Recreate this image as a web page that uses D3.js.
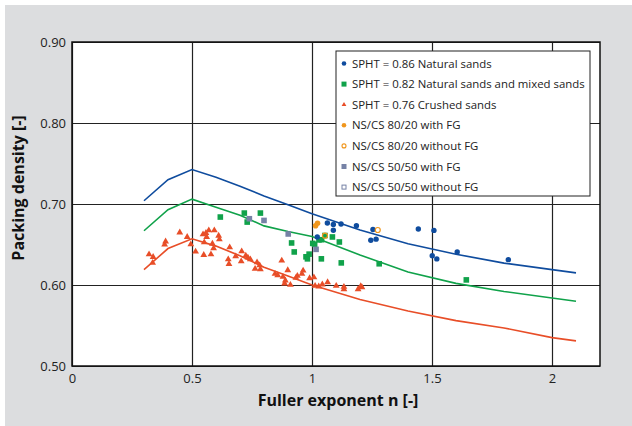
<!DOCTYPE html>
<html>
<head>
<meta charset="utf-8">
<script src="https://cdn.jsdelivr.net/npm/d3@7"></script>
<style>
  body { margin: 0; background: #fff; }
  text { font-family: "Open Sans", "DejaVu Sans", sans-serif; }
</style>
</head>
<body>
<div class="chart"></div>
<script>
// tick labels
const xTicks = [0, 0.5, 1, 1.5, 2];
const yTicks = [0.5, 0.6, 0.7, 0.8, 0.9];

// model curves (Fuller exponent vs packing density)
const curveN = [0.3, 0.4, 0.5, 0.6, 0.7, 0.8, 0.9, 1.0, 1.2, 1.4, 1.6, 1.8, 2.0, 2.1];
const curve086 = [0.704, 0.730, 0.7425, 0.733, 0.722, 0.710, 0.699, 0.688, 0.668, 0.651, 0.638, 0.627, 0.619, 0.615];
const curve082 = [0.667, 0.693, 0.706, 0.696, 0.686, 0.673, 0.666, 0.660, 0.637, 0.616, 0.602, 0.592, 0.584, 0.580];
const curve076 = [0.619, 0.645, 0.657, 0.648, 0.636, 0.622, 0.611, 0.600, 0.582, 0.568, 0.556, 0.547, 0.535, 0.531];

// measured points [n, packing density]
const naturalSands = [
    [1.064, 0.6765], [1.089, 0.6748], [1.121, 0.6753], [1.089, 0.6676], [1.185, 0.6732],
    [1.254, 0.6685], [1.245, 0.6553], [1.267, 0.6566], [1.443, 0.6692], [1.508, 0.6674],
    [1.501, 0.6362], [1.520, 0.6322], [1.605, 0.6408], [1.818, 0.6313], [1.022, 0.6593]
];
const mixedSands = [
    [0.618, 0.6839], [0.718, 0.6888], [0.785, 0.6888], [0.730, 0.6777], [0.915, 0.6519],
    [0.926, 0.6408], [1.003, 0.6514], [1.011, 0.6502], [1.029, 0.6557], [1.040, 0.6559],
    [1.085, 0.6593], [1.114, 0.6531], [0.988, 0.6381], [0.975, 0.6348], [0.981, 0.6323],
    [1.039, 0.6323], [1.122, 0.6273], [1.280, 0.6262], [1.054, 0.6611], [1.643, 0.6063]
];
const crushedSands = [
    [0.449, 0.6649], [0.480, 0.6593], [0.390, 0.6538], [0.386, 0.6498], [0.321, 0.6378],
    [0.338, 0.6346], [0.336, 0.6273], [0.495, 0.6502], [0.515, 0.6412], [0.549, 0.6371],
    [0.579, 0.6378], [0.546, 0.6625], [0.558, 0.6642], [0.570, 0.6674], [0.593, 0.6674],
    [0.561, 0.6593], [0.551, 0.6526], [0.585, 0.6510], [0.590, 0.6452], [0.611, 0.6609],
    [0.614, 0.6563], [0.657, 0.6465], [0.651, 0.6317], [0.654, 0.6260], [0.682, 0.6354],
    [0.707, 0.6415], [0.724, 0.6362], [0.733, 0.6338], [0.705, 0.6292], [0.743, 0.6317],
    [0.771, 0.6280], [0.763, 0.6199], [0.785, 0.6194], [0.782, 0.6243], [0.874, 0.6301],
    [0.846, 0.6137], [0.857, 0.6120], [0.879, 0.6100], [0.899, 0.6182], [0.889, 0.6055],
    [0.886, 0.6018], [0.910, 0.6002], [0.933, 0.6088], [0.939, 0.6113], [0.958, 0.6137],
    [0.963, 0.6178], [0.990, 0.6083], [1.008, 0.6095], [1.013, 0.5990], [1.028, 0.5981],
    [1.043, 0.6006], [1.065, 0.6034], [1.101, 0.5990], [1.133, 0.5977], [1.133, 0.5948],
    [1.192, 0.5948], [1.203, 0.5985], [1.208, 0.5972]
];
const ns80WithFG = [[1.015, 0.6732], [1.023, 0.6762]];
const ns80WithoutFG = [[1.274, 0.6679], [1.054, 0.6609]];
const ns50WithFG = [[0.739, 0.6818], [0.800, 0.6797], [0.901, 0.6630], [1.017, 0.6440]];
const ns50WithoutFG = [];

const legendLabels = [
    'SPHT = 0.86 Natural sands',
    'SPHT = 0.82 Natural sands and mixed sands',
    'SPHT = 0.76 Crushed sands',
    'NS/CS 80/20 with FG',
    'NS/CS 80/20 without FG',
    'NS/CS 50/50 with FG',
    'NS/CS 50/50 without FG'
];

const blue = '#0f4c9e';
const green = '#10a24a';
const red = '#e84e28';
const orange = '#f0961c';
const slate = '#7682a6';

const W = 632, H = 426;
const margin = { left: 72, top: 42, right: 32, bottom: 60 };
const pw = W - margin.left - margin.right;
const ph = H - margin.top - margin.bottom;

const svg = d3.select('.chart')
    .append('svg')
    .attr('width', W)
    .attr('height', H);

svg.append('rect')
    .attr('x', 5)
    .attr('y', 5)
    .attr('width', W - 5)
    .attr('height', H - 5)
    .style('fill', '#dcdddf');

const x = d3.scaleLinear().domain([0, 2.2]).range([0, pw]);
const y = d3.scaleLinear().domain([0.5, 0.9]).range([ph, 0]);

const g = svg.append('g')
    .attr('transform', `translate(${margin.left},${margin.top})`);

g.append('rect')
    .attr('width', pw)
    .attr('height', ph)
    .style('fill', '#fff');

// grid + tick labels through axes
const xAxis = g.append('g')
    .attr('transform', `translate(0,${ph})`)
    .call(d3.axisBottom(x).tickValues(xTicks).tickSize(-ph).tickFormat(d3.format('')));
xAxis.select('.domain').remove();
xAxis.selectAll('line').attr('stroke', '#222').attr('stroke-width', 1.2);
xAxis.selectAll('text')
    .attr('y', 8)
    .style('font-size', '13px')
    .style('fill', '#222');

const yAxis = g.append('g')
    .call(d3.axisLeft(y).tickValues(yTicks).tickSize(-pw).tickFormat(d3.format('.2f')));
yAxis.select('.domain').remove();
yAxis.selectAll('line').attr('stroke', '#222').attr('stroke-width', 1.2);
yAxis.selectAll('text')
    .attr('x', -6)
    .style('font-size', '13px')
    .style('fill', '#222');

g.append('rect')
    .attr('width', pw)
    .attr('height', ph)
    .style('fill', 'none')
    .style('stroke', '#111')
    .style('stroke-width', 1.5);

// curves
const line = d3.line()
    .x((d, i) => x(curveN[i]))
    .y(d => y(d));

[[curve086, blue], [curve082, green], [curve076, red]].forEach(c => {
    g.append('path')
        .attr('d', line(c[0]))
        .attr('fill', 'none')
        .attr('stroke', c[1])
        .attr('stroke-width', 1.6);
});

// markers
const triangle = d3.symbol().type(d3.symbolTriangle).size(20);

g.selectAll('.tri')
    .data(crushedSands)
    .enter()
    .append('path')
    .attr('d', triangle)
    .attr('transform', d => `translate(${x(d[0])},${y(d[1])})`)
    .style('fill', red);

g.selectAll('.sq')
    .data(mixedSands)
    .enter()
    .append('rect')
    .attr('x', d => x(d[0]) - 2.8)
    .attr('y', d => y(d[1]) - 2.8)
    .attr('width', 5.6)
    .attr('height', 5.6)
    .style('fill', green);

g.selectAll('.dot')
    .data(naturalSands)
    .enter()
    .append('circle')
    .attr('cx', d => x(d[0]))
    .attr('cy', d => y(d[1]))
    .attr('r', 2.7)
    .style('fill', blue);

g.selectAll('.sl')
    .data(ns50WithFG)
    .enter()
    .append('rect')
    .attr('x', d => x(d[0]) - 2.8)
    .attr('y', d => y(d[1]) - 2.8)
    .attr('width', 5.6)
    .attr('height', 5.6)
    .style('fill', slate);

g.selectAll('.slo')
    .data(ns50WithoutFG)
    .enter()
    .append('rect')
    .attr('x', d => x(d[0]) - 2.3)
    .attr('y', d => y(d[1]) - 2.3)
    .attr('width', 4.6)
    .attr('height', 4.6)
    .style('fill', '#fff')
    .style('stroke', slate);

g.selectAll('.or')
    .data(ns80WithFG)
    .enter()
    .append('circle')
    .attr('cx', d => x(d[0]))
    .attr('cy', d => y(d[1]))
    .attr('r', 2.8)
    .style('fill', orange);

g.selectAll('.oro')
    .data(ns80WithoutFG)
    .enter()
    .append('circle')
    .attr('cx', d => x(d[0]))
    .attr('cy', d => y(d[1]))
    .attr('r', 2.5)
    .style('fill', 'none')
    .style('stroke', orange)
    .style('stroke-width', 1.2);

// legend
const lg = svg.append('g').attr('transform', 'translate(336,51)');
lg.append('rect')
    .attr('width', 254)
    .attr('height', 145)
    .style('fill', '#fff')
    .style('stroke', '#222')
    .style('stroke-width', 1);

const legendRows = lg.selectAll('.row')
    .data(legendLabels)
    .enter()
    .append('g')
    .attr('transform', (d, i) => `translate(8,${12.5 + i * 20.6})`);

legendRows.each(function(d, i) {
    const row = d3.select(this);
    if (i === 0) {
        row.append('circle').attr('r', 2.3).style('fill', blue);
    } else if (i === 1) {
        row.append('rect').attr('x', -2.5).attr('y', -2.5).attr('width', 5).attr('height', 5).style('fill', green);
    } else if (i === 2) {
        row.append('path').attr('d', d3.symbol().type(d3.symbolTriangle).size(10)).style('fill', red);
    } else if (i === 3) {
        row.append('circle').attr('r', 2.3).style('fill', orange);
    } else if (i === 4) {
        row.append('circle').attr('r', 2).style('fill', 'none').style('stroke', orange).style('stroke-width', 1.1);
    } else if (i === 5) {
        row.append('rect').attr('x', -2.5).attr('y', -2.5).attr('width', 5).attr('height', 5).style('fill', slate);
    } else {
        row.append('rect').attr('x', -2).attr('y', -2).attr('width', 4).attr('height', 4)
            .style('fill', '#fff').style('stroke', slate).style('stroke-width', 1);
    }
    row.append('text')
        .attr('x', 8)
        .attr('dy', '0.35em')
        .style('font-size', '11.4px')
        .style('fill', '#222')
        .text(d);
});

// axis titles
svg.append('text')
    .attr('x', margin.left + x(1.1) + 2)
    .attr('y', 406)
    .attr('text-anchor', 'middle')
    .style('font-size', '16px')
    .style('font-weight', 'bold')
    .style('fill', '#111')
    .text('Fuller exponent n [-]');

svg.append('text')
    .attr('transform', 'translate(24,188) rotate(-90)')
    .attr('text-anchor', 'middle')
    .style('font-size', '16px')
    .style('font-weight', 'bold')
    .style('fill', '#111')
    .text('Packing density [-]');
</script>
</body>
</html>
